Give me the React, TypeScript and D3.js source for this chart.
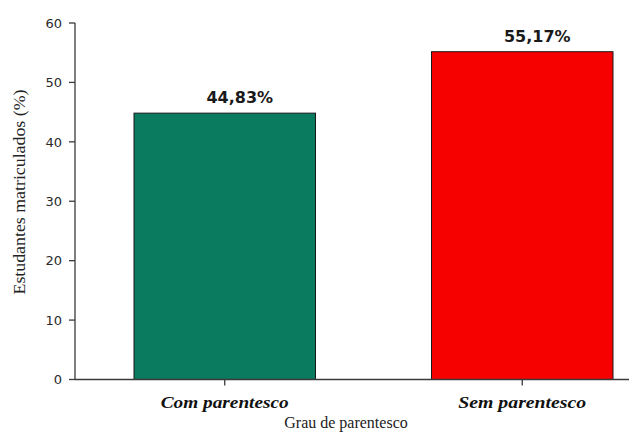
import React from "react";
import * as d3 from "d3";

const categories = ["Com parentesco", "Sem parentesco"];
const values = [44.83, 55.17];
const valueLabels = ["44,83%", "55,17%"];
const colors = ["#0a7b5f", "#f70000"];
const yTicks = [0, 10, 20, 30, 40, 50, 60];
const xTitle = "Grau de parentesco";
const yTitle = "Estudantes matriculados (%)";

const W = 629;
const H = 434;

export default function App() {
  const x = d3
    .scaleBand<string>()
    .domain(categories)
    .range([134, 613])
    .paddingInner(0.39)
    .paddingOuter(0);
  const y = d3.scaleLinear().domain([0, 60]).range([379.5, 23]);
  const axisColor = "#3a3a3a";
  const x0 = 75;
  const xEnd = 629;
  return (
    <svg
      width={W}
      height={H}
      style={{ position: "absolute", left: 0, top: 0, background: "#fff" }}
    >
      <rect x={0} y={0} width={W} height={H} fill="#fff" />
      {categories.map((c, i) => (
        <rect
          key={c}
          x={x(c)!}
          y={y(values[i])}
          width={x.bandwidth()}
          height={y(0) - y(values[i])}
          fill={colors[i]}
          stroke="#1a1a1a"
          strokeWidth={1}
        />
      ))}
      {/* y axis */}
      <line x1={x0} x2={x0} y1={y(60)} y2={y(0)} stroke={axisColor} strokeWidth={1.3} />
      {yTicks.map((t) => (
        <g key={t}>
          <line x1={x0 - 6} x2={x0} y1={y(t)} y2={y(t)} stroke={axisColor} strokeWidth={1.3} />
          <text
            x={62}
            y={y(t)}
            dy="0.36em"
            textAnchor="end"
            fontFamily="DejaVu Sans, sans-serif"
            fontSize={13}
            fill="#2a2a2a"
          >
            {t}
          </text>
        </g>
      ))}
      {/* x axis */}
      <line x1={x0} x2={xEnd} y1={y(0)} y2={y(0)} stroke={axisColor} strokeWidth={1.3} />
      {categories.map((c) => {
        const cx = x(c)! + x.bandwidth() / 2;
        return (
          <g key={c}>
            <line x1={cx} x2={cx} y1={y(0)} y2={y(0) + 6} stroke={axisColor} strokeWidth={1.3} />
            <text
              x={cx}
              y={408}
              textAnchor="middle"
              fontFamily="Liberation Serif, Times New Roman, serif"
              fontWeight="bold"
              fontStyle="italic"
              fontSize={17}
              textLength={128}
              lengthAdjust="spacingAndGlyphs"
              fill="#111"
            >
              {c}
            </text>
          </g>
        );
      })}
      {categories.map((c, i) => (
        <text
          key={c + "lbl"}
          x={x(c)! + x.bandwidth() / 2 + 15}
          y={y(values[i]) - 10}
          textAnchor="middle"
          fontFamily="DejaVu Sans, sans-serif"
          fontWeight="bold"
          fontSize={16}
          fill="#1a1a1a"
        >
          {valueLabels[i]}
        </text>
      ))}
      <text
        x={346}
        y={428}
        textAnchor="middle"
        fontFamily="Liberation Serif, Times New Roman, serif"
        fontSize={16}
        fill="#222"
      >
        {xTitle}
      </text>
      <text
        transform={`translate(25, 192) rotate(-90)`}
        textAnchor="middle"
        fontFamily="Liberation Serif, Times New Roman, serif"
        fontSize={17}
        textLength={205}
        lengthAdjust="spacingAndGlyphs"
        fill="#222"
      >
        {yTitle}
      </text>
    </svg>
  );
}
